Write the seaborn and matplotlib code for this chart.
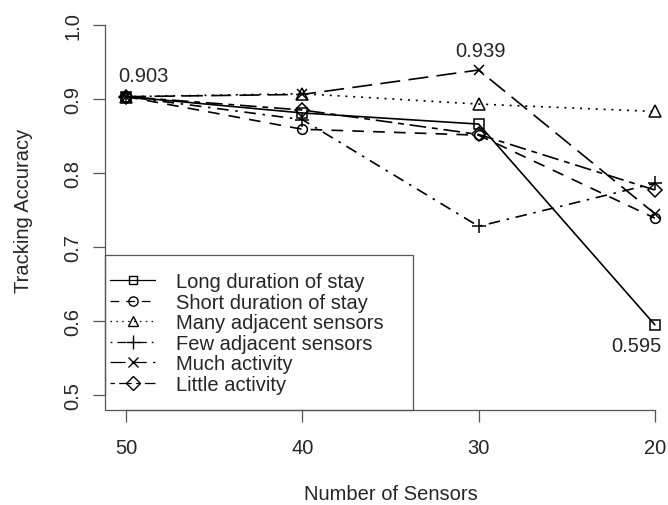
import matplotlib
matplotlib.use("Agg")
import matplotlib.pyplot as plt
import seaborn as sns
import pandas as pd
from matplotlib.patches import Rectangle
from matplotlib.lines import Line2D

sensors = [50, 40, 30, 20]
series_names = ["Long duration of stay", "Short duration of stay", "Many adjacent sensors",
                "Few adjacent sensors", "Much activity", "Little activity"]
long_stay = [0.903, 0.881, 0.866, 0.595]
short_stay = [0.903, 0.859, 0.851, 0.739]
many_adj = [0.903, 0.907, 0.893, 0.883]
few_adj = [0.903, 0.872, 0.728, 0.786]
much_act = [0.903, 0.906, 0.939, 0.745]
little_act = [0.903, 0.885, 0.852, 0.777]
values = [long_stay, short_stay, many_adj, few_adj, much_act, little_act]
y_ticks = [0.5, 0.6, 0.7, 0.8, 0.9, 1.0]

sns.set_theme(style="white")
plt.rcParams["font.family"] = ["Liberation Sans", "DejaVu Sans"]
FS = 14.5

styles = [
    dict(ls="-", marker="s", ms=6.5),
    dict(ls=(0, (7, 5.5)), marker="o", ms=7),
    dict(ls=(0, (1.2, 3.5)), marker="^", ms=8),
    dict(ls=(0, (1.5, 4, 7, 4)), marker="+", ms=10),
    dict(ls=(0, (12, 5)), marker="x", ms=7.5),
    dict(ls=(0, (3.5, 3.5, 10, 3.5)), marker="D", ms=7),
]

fig = plt.figure(figsize=(6.68, 5.06), dpi=100)
ax = fig.add_axes([105 / 668, 1 - 411 / 506, 571 / 668, 400 / 506])

handles = []
for name, vals, st in zip(series_names, values, styles):
    df = pd.DataFrame({"x": sensors, "y": vals})
    sns.lineplot(data=df, x="x", y="y", ax=ax, color="black", linestyle=st["ls"],
                 marker=st["marker"], markersize=st["ms"], markerfacecolor="none",
                 markeredgecolor="black", markeredgewidth=1.1, linewidth=1.2,
                 sort=False, legend=False)
    handles.append(Line2D([], [], color="black", linestyle=st["ls"], linewidth=0.9,
                          marker=st["marker"], markersize=st["ms"] * 0.95,
                          markerfacecolor="none", markeredgecolor="black",
                          markeredgewidth=1.0))

ax.set_xlim(51.2, 18.8)
ax.set_ylim(0.48, 1.02)
ax.set_xticks(sensors)
ax.set_xticklabels([str(s) for s in sensors], fontsize=FS)
ax.set_yticks(y_ticks)
ax.set_yticklabels([f"{t:.1f}" for t in y_ticks], fontsize=FS, rotation=90, va="center")

for s in ["top", "right"]:
    ax.spines[s].set_visible(False)
for s in ["left", "bottom"]:
    ax.spines[s].set_color("#555555")
    ax.spines[s].set_linewidth(0.9)
ax.spines["left"].set_bounds(0.5, 1.0)
ax.spines["bottom"].set_bounds(20, 50)
ax.tick_params(axis="both", direction="out", length=8.5, width=0.9, color="#555555",
               left=True, bottom=True)
ax.tick_params(axis="x", pad=12)
ax.tick_params(axis="y", pad=8)

ax.set_xlabel("Number of Sensors", fontsize=FS, labelpad=19)
ax.set_ylabel("Tracking Accuracy", fontsize=FS, labelpad=22)

ax.annotate("0.903", (sensors[0], long_stay[0]), xytext=(12.6, 15), textcoords="offset points",
            ha="center", va="center", fontsize=FS)
ax.annotate("0.939", (sensors[2], much_act[2]), xytext=(1, 14), textcoords="offset points",
            ha="center", va="center", fontsize=FS)
ax.annotate("0.595", (sensors[3], long_stay[3]), xytext=(-13, -15), textcoords="offset points",
            ha="center", va="center", fontsize=FS)

ax.add_patch(Rectangle((0, 0), 308 / 571, 155 / 400, transform=ax.transAxes,
                       fill=False, edgecolor="#555555", linewidth=0.9, clip_on=False))
leg = ax.legend(handles, series_names, loc="upper left",
                bbox_to_anchor=(5 / 571, (411 - 273) / 400), borderaxespad=0, borderpad=0,
                frameon=False, fontsize=FS, handlelength=2.25, handletextpad=1.05,
                labelspacing=0.08)

fig.savefig("out.png", dpi=100)
